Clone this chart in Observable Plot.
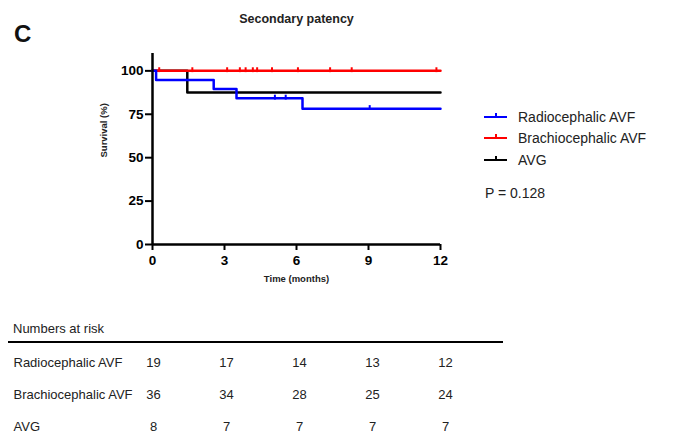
<!DOCTYPE html>
<html>
<head>
<meta charset="utf-8">
<script src="https://cdn.jsdelivr.net/npm/d3@7"></script>
<script src="https://cdn.jsdelivr.net/npm/@observablehq/plot@0.6"></script>
<style>
  body { margin: 0; background: #fff; }
  #wrap { position: relative; width: 674px; height: 433px; background: #fff; font-family: "Liberation Sans", Arial, sans-serif; overflow: hidden; }
  .abs { position: absolute; white-space: nowrap; }
</style>
</head>
<body>
<div id="wrap"></div>
<script>
// ---- data ----
const groups = ["Radiocephalic AVF", "Brachiocephalic AVF", "AVG"];
const colors = ["#0000ff", "#ff0000", "#000000"];
const xTicks = [0, 3, 6, 9, 12];
const yTicks = [0, 25, 50, 75, 100];

const radioT = [0, 0.15, 2.55, 3.5, 6.25, 12];
const radioS = [100, 94.7, 89.5, 84.2, 78.2, 78.2];
const brachioT = [0, 12];
const brachioS = [100, 100];
const avgT = [0, 1.45, 12];
const avgS = [100, 87.5, 87.5];

const radioCensT = [5.1, 5.55, 9.05];
const radioCensS = [84.2, 84.2, 78.2];
const brachioCensT = [0.28, 1.66, 3.11, 3.64, 3.88, 4.18, 4.36, 4.98, 6.06, 7.4, 8.3, 11.83];
const brachioCensS = [100, 100, 100, 100, 100, 100, 100, 100, 100, 100, 100, 100];

const riskTimes = [0, 3, 6, 9, 12];
const riskRadio = [19, 17, 14, 13, 12];
const riskBrachio = [36, 34, 28, 25, 24];
const riskAvg = [8, 7, 7, 7, 7];

const titleText = "Secondary patency";
const panelLetter = "C";
const pText = "P = 0.128";
const xLabel = "Time (months)";
const yLabel = "Survival (%)";
const riskHeader = "Numbers at risk";

// ---- build tables ----
function rows(g, T, S) { return T.map((t, i) => ({group: g, t, s: S[i]})); }
const curves = {
  "Radiocephalic AVF": rows(groups[0], radioT, radioS),
  "Brachiocephalic AVF": rows(groups[1], brachioT, brachioS),
  "AVG": rows(groups[2], avgT, avgS)
};
const cens = [
  ...rows(groups[0], radioCensT, radioCensS),
  ...rows(groups[1], brachioCensT, brachioCensS)
];
const colorOf = g => colors[groups.indexOf(g)];

const tickSymbol = {
  draw(context, size) {
    const r = Math.sqrt(size / Math.PI);
    context.moveTo(0, -r);
    context.lineTo(0, r * 0.35);
  }
};

const font = "'Liberation Sans', Arial, sans-serif";
const wrap = document.getElementById("wrap");

const chart = Plot.plot({
  width: 674,
  height: 300,
  marginLeft: 152,
  marginRight: 234,
  marginTop: 53,
  marginBottom: 56,
  style: {fontFamily: font, color: "#000", background: "transparent", overflow: "visible"},
  x: {domain: [0, 12]},
  y: {domain: [0, 110]},
  marks: [
    Plot.axisY({ticks: yTicks, tickSize: 7, tickPadding: 2, strokeWidth: 2, fontSize: 13.5, fontWeight: "bold", label: null}),
    Plot.axisX({ticks: xTicks, tickSize: 6, tickPadding: 5, strokeWidth: 2, fontSize: 13.5, fontWeight: "bold", label: null}),
    Plot.line(curves["AVG"], {x: "t", y: "s", stroke: colorOf("AVG"), strokeWidth: 2.5, curve: "step-after"}),
    Plot.line(curves["Brachiocephalic AVF"], {x: "t", y: "s", stroke: colorOf("Brachiocephalic AVF"), strokeWidth: 2.5, curve: "step-after"}),
    Plot.line(curves["Radiocephalic AVF"], {x: "t", y: "s", stroke: colorOf("Radiocephalic AVF"), strokeWidth: 2.5, curve: "step-after"}),
    Plot.dot(cens, {x: "t", y: "s", stroke: d => colorOf(d.group), fill: "none", symbol: tickSymbol, r: 3.6, strokeWidth: 2}),
    Plot.ruleX([0], {y1: 0, y2: 110, strokeWidth: 2.5, stroke: "#000"}),
    Plot.ruleY([0], {x1: 0, x2: 12, strokeWidth: 2.5, stroke: "#000"}),
    Plot.text([yLabel], {frameAnchor: "left", rotate: -90, dx: -49, dy: 8.5, fontSize: 9.5, fontWeight: "bold", fill: "#222"}),
    Plot.text([xLabel], {frameAnchor: "bottom", dy: 37, fontSize: 9.5, fontWeight: "bold", fill: "#222"})
  ]
});
chart.style.position = "absolute";
chart.style.left = "0px";
chart.style.top = "0px";
wrap.appendChild(chart);

// risk table
const riskRows = [riskRadio, riskBrachio, riskAvg];
const riskData = [];
groups.forEach((g, i) => riskTimes.forEach((t, j) => riskData.push({group: g, t, n: riskRows[i][j]})));

const table = Plot.plot({
  width: 674,
  height: 133,
  marginLeft: 152,
  marginRight: 234,
  marginTop: 0,
  marginBottom: 0,
  style: {fontFamily: font, color: "#222", background: "transparent", overflow: "visible"},
  x: {domain: [0, 12], range: [153, 445], axis: null},
  y: {type: "point", domain: groups, range: [61.7, 126], padding: 0, axis: null},
  marks: [
    Plot.text(groups, {y: d => d, frameAnchor: "left", dx: -139, textAnchor: "start", fontSize: 13, fill: "#222"}),
    Plot.text(riskData, {x: "t", y: "group", text: d => String(d.n), fontSize: 13, fill: "#222"})
  ]
});
table.style.position = "absolute";
table.style.left = "0px";
table.style.top = "300px";
wrap.appendChild(table);

// HTML extras: title, panel letter, legend, p-value, table header
function addText(txt, left, centerY, css) {
  const d = document.createElement("div");
  d.className = "abs";
  d.textContent = txt;
  d.style.left = left + "px";
  d.style.top = centerY + "px";
  d.style.transform = "translateY(-50%)";
  Object.assign(d.style, css || {});
  wrap.appendChild(d);
  return d;
}
const t = addText(titleText, 296.5, 18.5, {fontSize: "12.5px", fontWeight: "bold", color: "#222"});
t.style.transform = "translate(-50%,-50%)";
addText(panelLetter, 14, 34, {fontSize: "24px", fontWeight: "bold", color: "#111"});

const legendY = [117, 138, 160];
groups.forEach((g, i) => {
  const line = document.createElement("div");
  line.className = "abs";
  Object.assign(line.style, {left: "484px", top: (legendY[i] - 1.25) + "px", width: "23px", height: "2.5px", background: colors[i]});
  wrap.appendChild(line);
  const tk = document.createElement("div");
  tk.className = "abs";
  Object.assign(tk.style, {left: "494.5px", top: (legendY[i] - 4) + "px", width: "2px", height: "4px", background: colors[i]});
  wrap.appendChild(tk);
  addText(g, 518, legendY[i], {fontSize: "14px", color: "#222"});
});
addText(pText, 485, 193, {fontSize: "14px", color: "#222"});

addText(riskHeader, 13, 328, {fontSize: "13px", color: "#222"});
const rule = document.createElement("div");
rule.className = "abs";
Object.assign(rule.style, {left: "8px", top: "340.5px", width: "495px", height: "2.5px", background: "#000"});
wrap.appendChild(rule);
</script>
</body>
</html>
